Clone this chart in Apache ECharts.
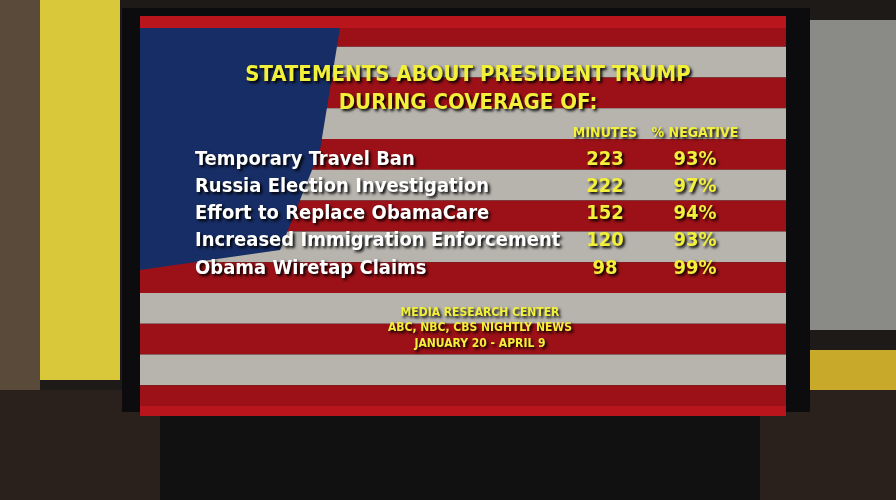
<!DOCTYPE html>
<html><head><meta charset="utf-8">
<script src="https://cdn.jsdelivr.net/npm/echarts@6/dist/echarts.min.js"></script>
<style>html,body{margin:0;padding:0;background:#1a1512}#c{width:896px;height:500px}</style>
</head><body><div id="c"></div>
<script>
var topics = ['Temporary Travel Ban', 'Russia Election Investigation', 'Effort to Replace ObamaCare',
  'Increased Immigration Enforcement', 'Obama Wiretap Claims'];
var columns = ['MINUTES', '% NEGATIVE'];
var minutes = [223, 222, 152, 120, 98];
var negative = [93, 97, 94, 93, 99];

// flag stripes (decoration)
var stripes = [];
var sh = 400 / 13;
for (var i = 0; i < 13; i++) {
  stripes.push({type: 'rect', zlevel: -1, z: 1, shape: {x: 140, y: 28 + i * sh - 12, width: 646, height: sh},
    style: {fill: i % 2 ? '#d8d4cc' : '#b8151c'}});
}
var yel = '#f2f03a';
var font = '"DejaVu Sans Condensed", "Liberation Sans Narrow", sans-serif';
var shadow = {textShadowColor: '#000', textShadowBlur: 3, textShadowOffsetX: 2, textShadowOffsetY: 2};
function t(x, y, s, size) {
  return {type: 'text', z: 10, x: x, y: y, style: Object.assign({text: s, fill: yel,
    font: 'bold ' + size + 'px ' + font, align: 'center', verticalAlign: 'middle'}, shadow)};
}
function bg(x, y, w, h, c, z) {
  return {type: 'rect', zlevel: -1, z: z || 0, shape: {x: x, y: y, width: w, height: h}, style: {fill: c}};
}
var graphic = [
  bg(0, 0, 896, 500, '#1e1a17'),
  bg(40, 0, 80, 380, '#d9c93a'),
  bg(0, 0, 40, 390, '#5a4a3a'),
  bg(800, 20, 96, 310, '#8a8a86'),
  bg(800, 350, 96, 130, '#c9a92a'),
  bg(0, 390, 896, 110, '#2a211c'),
  bg(122, 8, 688, 404, '#0c0c0e'),
  bg(160, 412, 600, 88, '#111')
].concat(stripes).concat([
  {type: 'polygon', zlevel: -1, z: 2, shape: {points: [[140, 28], [340, 28], [320, 150], [280, 250], [140, 270]]},
    style: {fill: '#1c3577'}},
  bg(140, 28, 646, 378, 'rgba(0,0,0,0.15)', 3),
  t(468, 75, 'STATEMENTS ABOUT PRESIDENT TRUMP', 22),
  t(468, 103, 'DURING COVERAGE OF:', 22),
  t(480, 313, 'MEDIA RESEARCH CENTER', 12),
  t(480, 328, 'ABC, NBC, CBS NIGHTLY NEWS', 12),
  t(480, 344, 'JANUARY 20 - APRIL 9', 12)
]);

function pts(vals, col, suffix) {
  return vals.map(function (v, i) { return {value: [col, i], lab: v + suffix}; });
}
var lbl = function (color, size) {
  return Object.assign({show: true, position: 'inside', color: color, fontSize: size, fontWeight: 'bold',
    fontFamily: font, formatter: function (p) { return p.data.lab; }}, shadow);
};
var chart = echarts.init(document.getElementById('c'));
chart.setOption({
  animation: false,
  graphic: graphic,
  grid: {left: 560, top: 146, width: 180, height: 136},
  xAxis: {type: 'category', data: columns, position: 'top', axisLine: {show: false}, axisTick: {show: false},
    axisLabel: Object.assign({interval: 0, color: yel, fontSize: 14, fontWeight: 'bold', fontFamily: font, margin: 6}, shadow)},
  yAxis: {type: 'category', data: topics, inverse: true, axisLine: {show: false}, axisTick: {show: false},
    axisLabel: Object.assign({interval: 0, color: '#fff', fontSize: 20, fontWeight: 'bold', fontFamily: font,
      align: 'left', margin: 365}, shadow)},
  series: [
    {type: 'scatter', z: 10, symbolSize: 1, itemStyle: {color: 'transparent', opacity: 1}, data: pts(minutes, 0, ''), label: lbl(yel, 20)},
    {type: 'scatter', z: 10, symbolSize: 1, itemStyle: {color: 'transparent', opacity: 1}, data: pts(negative, 1, '%'), label: lbl(yel, 20)}
  ]
});
</script></body></html>
